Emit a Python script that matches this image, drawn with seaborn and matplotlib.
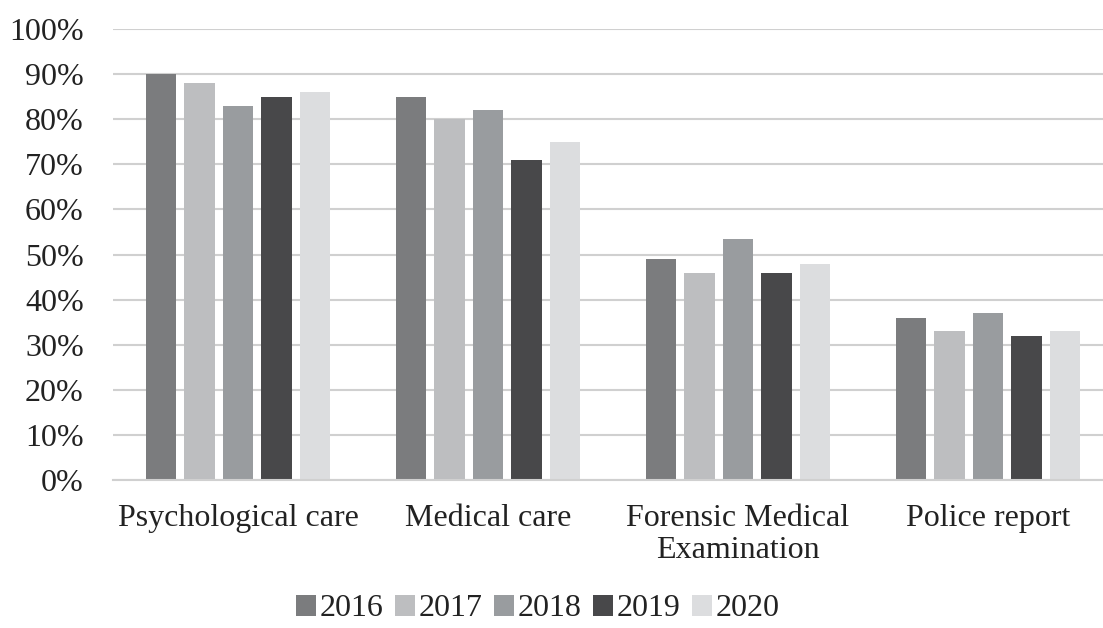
import pandas as pd
import matplotlib
matplotlib.use("Agg")
import matplotlib.pyplot as plt
import seaborn as sns
from matplotlib.ticker import PercentFormatter

# Data (share of cases, %)
categories = ["Psychological care", "Medical care",
              "Forensic Medical\nExamination", "Police report"]
years = ["2016", "2017", "2018", "2019", "2020"]
values_2016 = [90, 85, 49, 36]
values_2017 = [88, 80, 46, 33]
values_2018 = [83, 82, 53.5, 37]
values_2019 = [85, 71, 46, 32]
values_2020 = [86, 75, 48, 33]
year_colors = ["#7b7c7e", "#bdbec0", "#999c9f", "#48484a", "#dcdddf"]

series = [values_2016, values_2017, values_2018, values_2019, values_2020]
rows = []
for year, vals in zip(years, series):
    for cat, v in zip(categories, vals):
        rows.append({"category": cat, "year": year, "value": v / 100})
df = pd.DataFrame(rows)

sns.set_style("white")
plt.rcParams["font.family"] = ["Liberation Serif", "DejaVu Serif"]

fig = plt.figure(figsize=(11.03, 6.28), dpi=100)
ax = fig.add_axes([113 / 1103, 1 - 480 / 628, 1 - 113 / 1103, (480 - 29) / 628])

sns.barplot(data=df, x="category", y="value", hue="year", order=categories,
            hue_order=years, palette=year_colors, saturation=1,
            width=0.77, gap=0.22, linewidth=0, ax=ax, legend=True)

ax.set_ylim(0, 1)
ax.set_xlim(-0.5, 3.46)
ax.set_yticks([i / 10 for i in range(11)])
ax.yaxis.set_major_formatter(PercentFormatter(1.0, decimals=0))
ax.grid(axis="y", color="#d0d0d0", linewidth=1.5)
ax.set_axisbelow(True)
for side in ["top", "right", "left"]:
    ax.spines[side].set_visible(False)
ax.spines["bottom"].set_color("#d0d0d0")
ax.spines["bottom"].set_linewidth(1.5)
ax.tick_params(axis="y", length=0, pad=21, labelsize=23, colors="#222222")
ax.tick_params(axis="x", length=0, pad=17, labelsize=23, colors="#222222")
for lbl in ax.get_xticklabels():
    lbl.set_linespacing(1.15)
ax.set_xlabel("")
ax.set_ylabel("")

handles, labels = ax.get_legend_handles_labels()
ax.get_legend().remove()
fig.legend(handles, labels, loc="center", bbox_to_anchor=(538 / 1103, 1 - 609 / 628),
           ncol=5, frameon=False, fontsize=23, handlelength=0.62, handleheight=0.62,
           handletextpad=0.12, columnspacing=0.36, labelcolor="#222222")

fig.savefig("out.png", dpi=100)
